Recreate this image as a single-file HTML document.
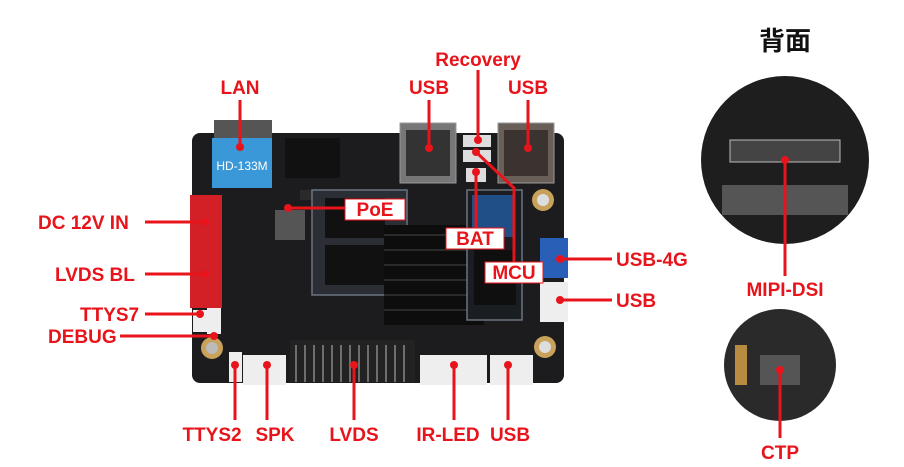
<!DOCTYPE html><html><head><meta charset="utf-8"><style>
body{margin:0;background:#fff;width:904px;height:467px;overflow:hidden}
svg{display:block}
.l{font-family:"Liberation Sans","Noto Sans CJK SC",sans-serif;fill:#e8141b;font-size:19px;font-weight:bold}
</style></head><body>
<svg width="904" height="467" viewBox="0 0 904 467">
<rect x="192" y="133" width="372" height="250" rx="8" fill="#1c1c1e"/>
<rect x="300" y="190" width="100" height="10" fill="#2a2a2a"/>
<rect x="312" y="190" width="95" height="105" fill="#2b2f35" stroke="#6b7580" stroke-width="1.5"/>
<rect x="325" y="198" width="60" height="40" fill="#111"/>
<rect x="325" y="245" width="60" height="40" fill="#111"/>
<rect x="384" y="225" width="100" height="100" fill="#0d0d0d"/>
<g stroke="#2a2a2a" stroke-width="2"><line x1="384" y1="235" x2="484" y2="235"/><line x1="384" y1="250" x2="484" y2="250"/><line x1="384" y1="265" x2="484" y2="265"/><line x1="384" y1="280" x2="484" y2="280"/><line x1="384" y1="295" x2="484" y2="295"/><line x1="384" y1="310" x2="484" y2="310"/></g>
<rect x="467" y="190" width="55" height="130" fill="#1a1d22" stroke="#6b7580" stroke-width="1.5"/>
<rect x="472" y="195" width="42" height="42" fill="#1f4f86"/>
<rect x="474" y="250" width="42" height="55" fill="#0f0f0f"/>
<rect x="285" y="138" width="55" height="40" fill="#111"/>
<rect x="275" y="210" width="30" height="30" fill="#555"/>
<rect x="214" y="120" width="58" height="22" fill="#555"/>
<rect x="212" y="138" width="60" height="50" fill="#3a98d8"/>
<text x="242" y="170" text-anchor="middle" font-family="Liberation Sans" font-size="12" fill="#fff">HD-133M</text>
<rect x="400" y="123" width="56" height="60" fill="#777" stroke="#999"/>
<rect x="406" y="130" width="44" height="46" fill="#333"/>
<rect x="498" y="123" width="56" height="60" fill="#6a5f58" stroke="#999"/>
<rect x="504" y="130" width="44" height="46" fill="#3a3330"/>
<rect x="463" y="135" width="28" height="12" fill="#ddd"/>
<rect x="463" y="150" width="28" height="12" fill="#ddd"/>
<rect x="466" y="168" width="20" height="14" fill="#ddd"/>
<rect x="190" y="195" width="32" height="55" fill="#d32027"/>
<rect x="190" y="250" width="32" height="58" fill="#d32027"/>
<rect x="193" y="310" width="14" height="22" fill="#eee"/>
<rect x="207" y="308" width="14" height="26" fill="#eee"/>
<circle cx="212" cy="348" r="11" fill="#c8a25a"/><circle cx="212" cy="348" r="6" fill="#bbb"/>
<circle cx="543" cy="200" r="11" fill="#c8a25a"/><circle cx="543" cy="200" r="6" fill="#ddd"/>
<circle cx="545" cy="347" r="11" fill="#c8a25a"/><circle cx="545" cy="347" r="6" fill="#ddd"/>
<rect x="540" y="238" width="28" height="40" fill="#2a5fb8"/>
<rect x="540" y="282" width="28" height="40" fill="#eee"/>
<rect x="229" y="352" width="13" height="30" fill="#eee"/>
<rect x="243" y="355" width="43" height="30" fill="#eee"/>
<rect x="290" y="340" width="125" height="42" fill="#222"/>
<g stroke="#888" stroke-width="1.5"><line x1="296" y1="345" x2="296" y2="382"/><line x1="305" y1="345" x2="305" y2="382"/><line x1="314" y1="345" x2="314" y2="382"/><line x1="323" y1="345" x2="323" y2="382"/><line x1="332" y1="345" x2="332" y2="382"/><line x1="341" y1="345" x2="341" y2="382"/><line x1="350" y1="345" x2="350" y2="382"/><line x1="359" y1="345" x2="359" y2="382"/><line x1="368" y1="345" x2="368" y2="382"/><line x1="377" y1="345" x2="377" y2="382"/><line x1="386" y1="345" x2="386" y2="382"/><line x1="395" y1="345" x2="395" y2="382"/><line x1="404" y1="345" x2="404" y2="382"/></g>
<rect x="420" y="355" width="67" height="30" fill="#eee"/>
<rect x="490" y="355" width="43" height="30" fill="#eee"/>
<circle cx="785" cy="160" r="84" fill="#1e1e1e"/>
<rect x="730" y="140" width="110" height="22" fill="#444" stroke="#bbb"/>
<g fill="#555"><rect x="722" y="185" width="126" height="30"/></g>
<circle cx="780" cy="365" r="56" fill="#2a2a2a"/>
<rect x="760" y="355" width="40" height="30" fill="#555"/>
<rect x="735" y="345" width="12" height="40" fill="#b88c40"/>
<g stroke="#e8141b" stroke-width="3" fill="none">
<line x1="240" y1="100" x2="240" y2="147"/>
<line x1="429" y1="100" x2="429" y2="148"/>
<line x1="478" y1="70" x2="478" y2="140"/>
<line x1="528" y1="100" x2="528" y2="148"/>
<polyline points="476,152 514,188 514,262"/>
<line x1="476" y1="172" x2="476" y2="228"/>
<line x1="290" y1="208" x2="345" y2="208"/>
<line x1="145" y1="222" x2="205" y2="222"/>
<line x1="145" y1="274" x2="205" y2="274"/>
<line x1="145" y1="314" x2="200" y2="314"/>
<line x1="120" y1="336" x2="214" y2="336"/>
<line x1="560" y1="259" x2="612" y2="259"/>
<line x1="560" y1="300" x2="612" y2="300"/>
<line x1="235" y1="365" x2="235" y2="420"/>
<line x1="267" y1="365" x2="267" y2="420"/>
<line x1="354" y1="365" x2="354" y2="420"/>
<line x1="454" y1="365" x2="454" y2="420"/>
<line x1="508" y1="365" x2="508" y2="420"/>
<line x1="785" y1="160" x2="785" y2="276"/>
<line x1="780" y1="370" x2="780" y2="438"/>
</g>
<g fill="#e8141b"><circle cx="240" cy="147" r="4"/><circle cx="429" cy="148" r="4"/><circle cx="528" cy="148" r="4"/><circle cx="478" cy="140" r="4"/><circle cx="476" cy="152" r="4"/><circle cx="476" cy="172" r="4"/><circle cx="288" cy="208" r="4"/><circle cx="205" cy="222" r="4"/><circle cx="205" cy="274" r="4"/><circle cx="200" cy="314" r="4"/><circle cx="214" cy="336" r="4"/><circle cx="560" cy="259" r="4"/><circle cx="560" cy="300" r="4"/><circle cx="235" cy="365" r="4"/><circle cx="267" cy="365" r="4"/><circle cx="354" cy="365" r="4"/><circle cx="454" cy="365" r="4"/><circle cx="508" cy="365" r="4"/><circle cx="785" cy="160" r="4"/><circle cx="780" cy="370" r="4"/></g>
<rect x="345" y="199" width="60" height="21" fill="#fff" stroke="#e8141b"/><text class="l" x="375" y="216" text-anchor="middle">PoE</text>
<rect x="446" y="228" width="58" height="21" fill="#fff" stroke="#e8141b"/><text class="l" x="475" y="245" text-anchor="middle">BAT</text>
<rect x="485" y="262" width="58" height="21" fill="#fff" stroke="#e8141b"/><text class="l" x="514" y="279" text-anchor="middle">MCU</text>
<text class="l" x="240" y="94" text-anchor="middle">LAN</text>
<text class="l" x="429" y="94" text-anchor="middle">USB</text>
<text class="l" x="478" y="66" text-anchor="middle">Recovery</text>
<text class="l" x="528" y="94" text-anchor="middle">USB</text>
<text x="785" y="50" text-anchor="middle" font-family="Liberation Sans,Noto Sans CJK SC,sans-serif" font-size="26" font-weight="bold" fill="#111">背面</text>
<text class="l" x="38" y="229">DC 12V IN</text>
<text class="l" x="55" y="281">LVDS BL</text>
<text class="l" x="80" y="321">TTYS7</text>
<text class="l" x="48" y="343">DEBUG</text>
<text class="l" x="616" y="266">USB-4G</text>
<text class="l" x="616" y="307">USB</text>
<text class="l" x="785" y="296" text-anchor="middle">MIPI-DSI</text>
<text class="l" x="780" y="459" text-anchor="middle">CTP</text>
<text class="l" x="212" y="441" text-anchor="middle">TTYS2</text>
<text class="l" x="275" y="441" text-anchor="middle">SPK</text>
<text class="l" x="354" y="441" text-anchor="middle">LVDS</text>
<text class="l" x="448" y="441" text-anchor="middle">IR-LED</text>
<text class="l" x="510" y="441" text-anchor="middle">USB</text>
</svg></body></html>
